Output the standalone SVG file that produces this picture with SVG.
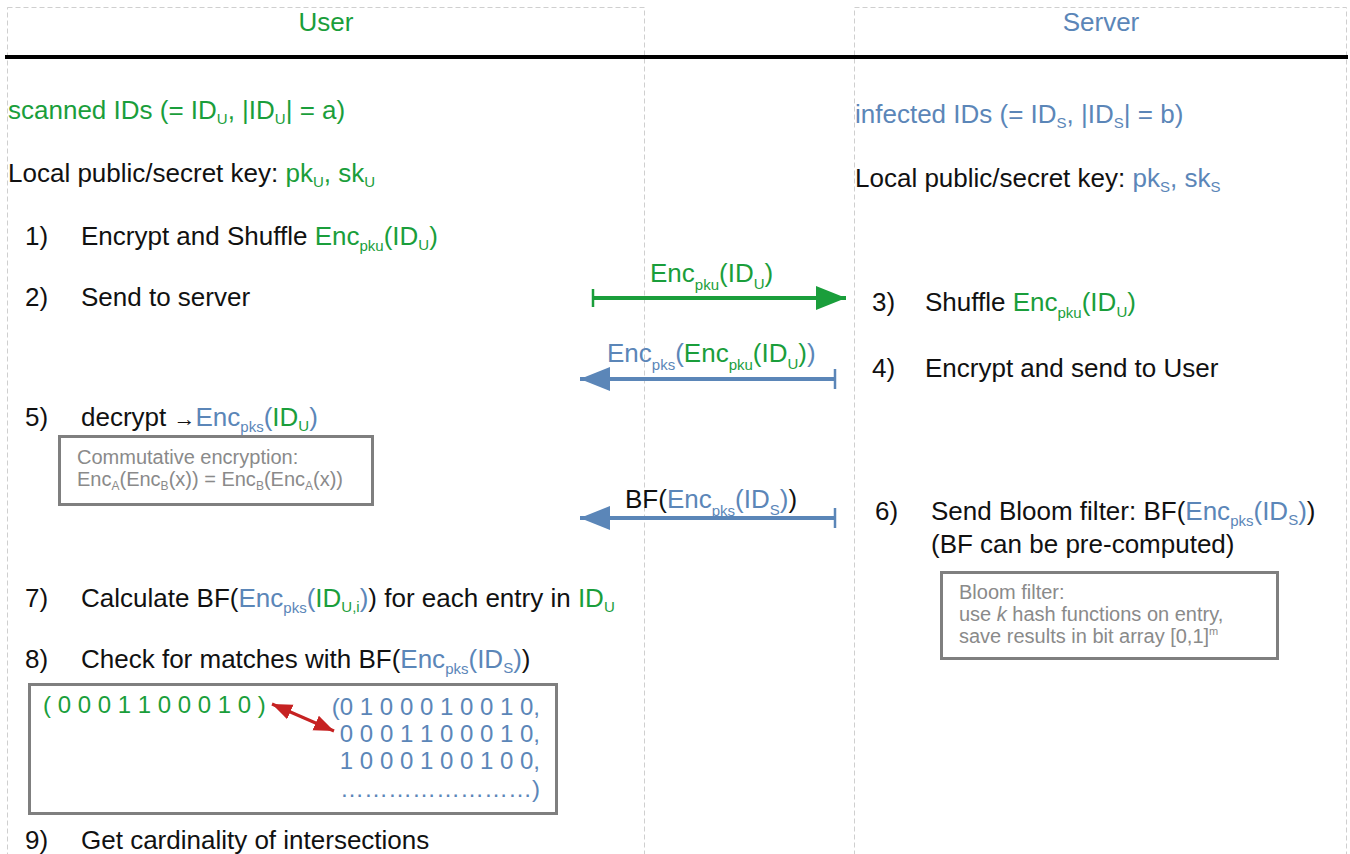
<svg xmlns="http://www.w3.org/2000/svg" width="1350" height="854" viewBox="0 0 1350 854">
<style>
text{font-family:"Liberation Sans",Arial,sans-serif;font-size:26px;fill:#111}
.g{fill:#1a9e3b}
.b{fill:#5b86b8}
.k{fill:#111}
.s{font-size:15px}
.note{font-size:20px;fill:#8a8a8a}
.bits{font-size:24px}
.lane{fill:none;stroke:#cfcfcf;stroke-width:1;stroke-dasharray:5,3}
.box{fill:#fff;stroke:#7f7f7f;stroke-width:3}
</style>
<defs>
<marker id="hg" markerUnits="userSpaceOnUse" markerWidth="32" markerHeight="26" refX="30" refY="13" orient="auto"><polygon points="0,1 30,13 0,25" fill="#1a9e3b"/></marker>
<marker id="hb" markerUnits="userSpaceOnUse" markerWidth="32" markerHeight="26" refX="30" refY="13" orient="auto"><polygon points="0,1 30,13 0,25" fill="#5b86b8"/></marker>
<marker id="hr" markerUnits="userSpaceOnUse" markerWidth="22" markerHeight="18" refX="20" refY="9" orient="auto-start-reverse"><polygon points="0,1 20,9 0,17" fill="#c62222"/></marker>
</defs>
<rect width="1350" height="854" fill="#fff"/>

<g id="lane-user">
<rect class="lane" x="7.5" y="7.5" width="637" height="860"/>
<text x="326" y="31" text-anchor="middle" class="g">User</text>
</g>
<g id="lane-server">
<rect class="lane" x="854.5" y="7.5" width="492" height="860"/>
<text x="1101" y="31" text-anchor="middle" class="b">Server</text>
</g>
<line x1="5" y1="57" x2="1348" y2="57" stroke="#000" stroke-width="4"/>

<g id="user-steps">
<text x="8" y="119" class="g">scanned IDs (= ID<tspan class="s" dy="5">U</tspan><tspan dy="-5">, |ID</tspan><tspan class="s" dy="5">U</tspan><tspan dy="-5">| = a)</tspan></text>
<text x="8" y="182">Local public/secret key: <tspan class="g">pk</tspan><tspan class="g s" dy="5">U</tspan><tspan class="g" dy="-5">, sk</tspan><tspan class="g s" dy="5">U</tspan></text>
<text x="25" y="245">1)</text>
<text x="81" y="245">Encrypt and Shuffle <tspan class="g">Enc</tspan><tspan class="g s" dy="6">pku</tspan><tspan class="g" dy="-6">(ID</tspan><tspan class="g s" dy="5">U</tspan><tspan class="g" dy="-5">)</tspan></text>
<text x="25" y="306">2)</text>
<text x="81" y="306">Send to server</text>
<text x="25" y="426">5)</text>
<text x="81" y="426">decrypt <tspan font-size="22">→</tspan><tspan class="b">Enc</tspan><tspan class="b s" dy="6">pks</tspan><tspan class="b" dy="-6">(</tspan><tspan class="g">ID</tspan><tspan class="g s" dy="5">U</tspan><tspan class="b" dy="-5">)</tspan></text>
<text x="25" y="607">7)</text>
<text x="81" y="607">Calculate BF(<tspan class="b">Enc</tspan><tspan class="b s" dy="6">pks</tspan><tspan class="b" dy="-6">(</tspan><tspan class="g">ID</tspan><tspan class="g s" dy="5">U,i</tspan><tspan class="b" dy="-5">)</tspan>) for each entry in <tspan class="g">ID</tspan><tspan class="g s" dy="5">U</tspan></text>
<text x="25" y="668">8)</text>
<text x="81" y="668">Check for matches with BF(<tspan class="b">Enc</tspan><tspan class="b s" dy="6">pks</tspan><tspan class="b" dy="-6">(ID</tspan><tspan class="b s" dy="5">S</tspan><tspan class="b" dy="-5">)</tspan>)</text>
<text x="25" y="849">9)</text>
<text x="81" y="849">Get cardinality of intersections</text>
</g>

<g id="note-commutative">
<rect class="box" x="59.5" y="436.5" width="313" height="68"/>
<text x="77" y="464" class="note">Commutative encryption:</text>
<text x="77" y="486" class="note">Enc<tspan font-size="12" dy="4">A</tspan><tspan dy="-4">(Enc</tspan><tspan font-size="12" dy="4">B</tspan><tspan dy="-4">(x)) = Enc</tspan><tspan font-size="12" dy="4">B</tspan><tspan dy="-4">(Enc</tspan><tspan font-size="12" dy="4">A</tspan><tspan dy="-4">(x))</tspan></text>
</g>

<g id="bits-box">
<rect class="box" x="29.5" y="684.5" width="527" height="129"/>
<text x="43" y="713" class="bits g">( 0 0 0 1 1 0 0 0 1 0 )</text>
<text x="540" y="715" text-anchor="end" class="bits b">(0 1 0 0 0 1 0 0 1 0,</text>
<text x="540" y="742" text-anchor="end" class="bits b">0 0 0 1 1 0 0 0 1 0,</text>
<text x="540" y="769" text-anchor="end" class="bits b">1 0 0 0 1 0 0 1 0 0,</text>
<text x="540" y="797" text-anchor="end" class="bits b">……………………)</text>
</g>

<g id="server-steps">
<text x="855" y="123" class="b">infected IDs (= ID<tspan class="s" dy="5">S</tspan><tspan dy="-5">, |ID</tspan><tspan class="s" dy="5">S</tspan><tspan dy="-5">| = b)</tspan></text>
<text x="855" y="187">Local public/secret key: <tspan class="b">pk</tspan><tspan class="b s" dy="5">S</tspan><tspan class="b" dy="-5">, sk</tspan><tspan class="b s" dy="5">S</tspan></text>
<text x="872" y="311">3)</text>
<text x="925" y="311">Shuffle <tspan class="g">Enc</tspan><tspan class="g s" dy="7">pku</tspan><tspan class="g" dy="-7">(ID</tspan><tspan class="g s" dy="6">U</tspan><tspan class="g" dy="-6">)</tspan></text>
<text x="872" y="377">4)</text>
<text x="925" y="377">Encrypt and send to User</text>
<text x="875" y="520">6)</text>
<text x="931" y="520" font-size="26.5">Send Bloom filter: BF(<tspan class="b">Enc</tspan><tspan class="b s" dy="6">pks</tspan><tspan class="b" dy="-6">(ID</tspan><tspan class="b s" dy="5">S</tspan><tspan class="b" dy="-5">)</tspan>)</text>
<text x="931" y="553" font-size="26.5">(BF can be pre-computed)</text>
</g>

<g id="note-bloom">
<rect class="box" x="941.5" y="572.5" width="336" height="86"/>
<text x="959" y="599" class="note">Bloom filter:</text>
<text x="959" y="621" class="note">use <tspan font-style="italic">k</tspan> hash functions on entry,</text>
<text x="959" y="643" class="note">save results in bit array [0,1]<tspan font-size="11" dy="-8">m</tspan></text>
</g>

<g id="connectors">
<line x1="593" y1="298" x2="846" y2="298" stroke="#1a9e3b" stroke-width="4" marker-end="url(#hg)"/>
<line x1="593" y1="289" x2="593" y2="307" stroke="#1a9e3b" stroke-width="2.5"/>
<text x="650" y="282" class="g">Enc<tspan class="s" dy="8">pku</tspan><tspan dy="-8">(ID</tspan><tspan class="s" dy="7">U</tspan><tspan dy="-7">)</tspan></text>

<line x1="835" y1="379" x2="580" y2="379" stroke="#5b86b8" stroke-width="4" marker-end="url(#hb)"/>
<line x1="835" y1="369" x2="835" y2="389" stroke="#5b86b8" stroke-width="2.5"/>
<text x="607" y="362"><tspan class="b">Enc</tspan><tspan class="b s" dy="8">pks</tspan><tspan class="b" dy="-8">(</tspan><tspan class="g">Enc</tspan><tspan class="g s" dy="8">pku</tspan><tspan class="g" dy="-8">(ID</tspan><tspan class="g s" dy="7">U</tspan><tspan class="g" dy="-7">)</tspan><tspan class="b">)</tspan></text>

<line x1="835" y1="518" x2="580" y2="518" stroke="#5b86b8" stroke-width="4" marker-end="url(#hb)"/>
<line x1="835" y1="508" x2="835" y2="528" stroke="#5b86b8" stroke-width="2.5"/>
<text x="625" y="508">BF(<tspan class="b">Enc</tspan><tspan class="b s" dy="8">pks</tspan><tspan class="b" dy="-8">(ID</tspan><tspan class="b s" dy="7">S</tspan><tspan class="b" dy="-7">)</tspan>)</text>

<line x1="272" y1="704" x2="334" y2="731" stroke="#c62222" stroke-width="3" marker-start="url(#hr)" marker-end="url(#hr)"/>
</g>
</svg>
